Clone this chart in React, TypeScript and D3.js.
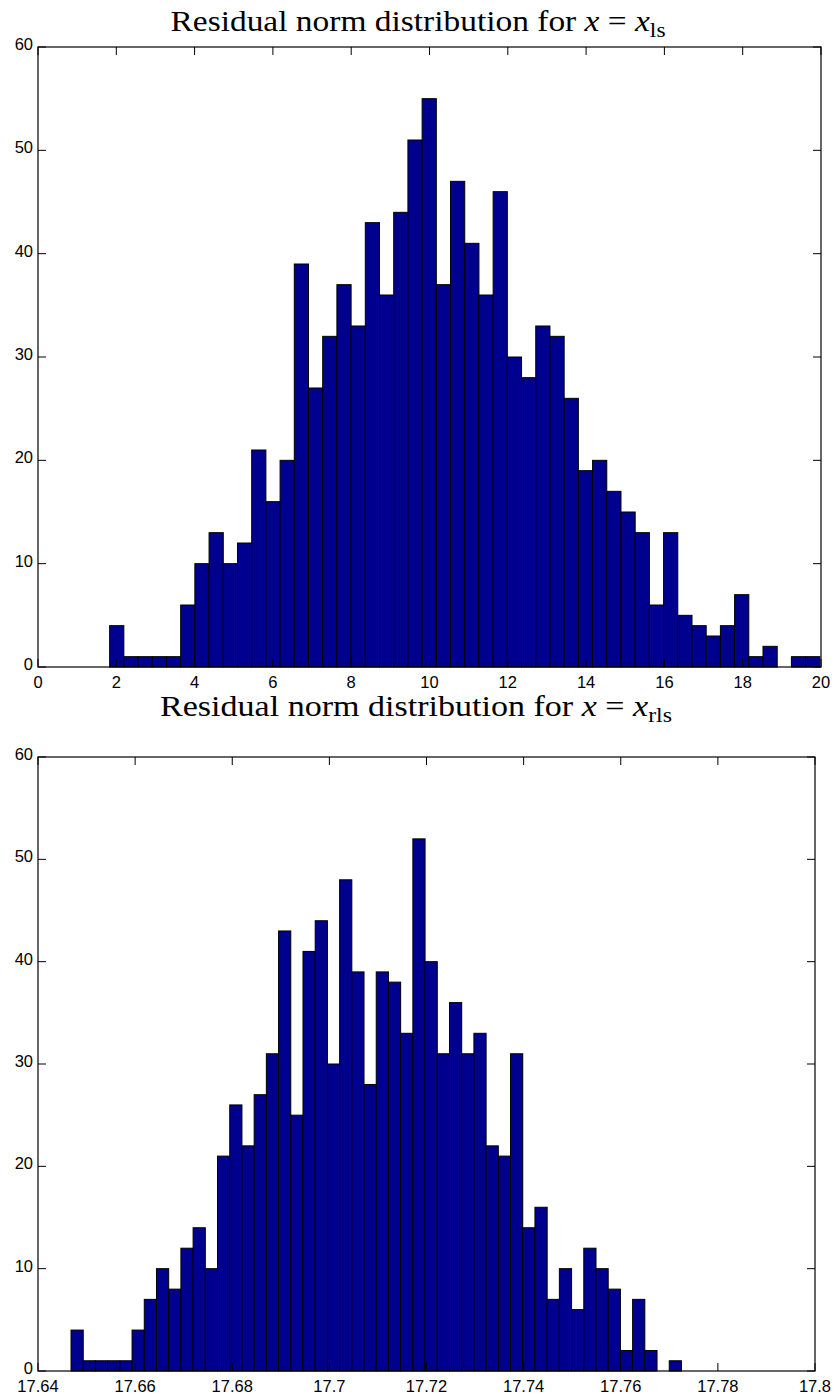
import React from "react";
import * as d3 from "d3";

// histogram counts, 50 bins each
const lsCounts = [4, 1, 1, 1, 1, 6, 10, 13, 10, 12, 21, 16, 20, 39, 27, 32, 37, 33, 43, 36, 44, 51, 55, 37, 47, 41, 36, 46, 30, 28, 33, 32, 26, 19, 20, 17, 15, 13, 6, 13, 5, 4, 3, 4, 7, 1, 2, 0, 1, 1];
const rlsCounts = [4, 1, 1, 1, 1, 4, 7, 10, 8, 12, 14, 10, 21, 26, 22, 27, 31, 43, 25, 41, 44, 30, 48, 39, 28, 39, 38, 33, 52, 40, 31, 36, 31, 33, 22, 21, 31, 14, 16, 7, 10, 6, 12, 10, 8, 2, 7, 2, 0, 1];

// data range covered by the bins
const lsRange = [1.83, 19.97];
const rlsRange = [17.6468, 17.7725];

const lsXTicks = [0, 2, 4, 6, 8, 10, 12, 14, 16, 18, 20];
const rlsXTicks = [17.64, 17.66, 17.68, 17.7, 17.72, 17.74, 17.76, 17.78, 17.8];
const yTicks = [0, 10, 20, 30, 40, 50, 60];

const BAR_COLOR = "#00008f";
const TICK_FONT = "'Liberation Sans', Arial, sans-serif";
const TITLE_FONT = "'Liberation Serif', 'Times New Roman', serif";

type Box = { left: number; right: number; top: number; bottom: number };

function Hist(props: {
  counts: number[];
  range: number[];
  xTicks: number[];
  box: Box;
  sub: string;
  titleX: number;
  titleY: number;
  titleW: number;
}) {
  const { counts, range, xTicks, box, sub, titleX, titleY, titleW } = props;
  const x = d3.scaleLinear().domain([xTicks[0], xTicks[xTicks.length - 1]]).range([box.left, box.right]);
  const y = d3.scaleLinear().domain([0, 60]).range([box.bottom, box.top]);
  const n = counts.length;
  const w = (range[1] - range[0]) / n;
  const fmt = (v: number) => String(+v.toFixed(4));
  const tl = 8;

  return (
    <g>
      <text
        x={titleX}
        y={titleY}
        textAnchor="middle"
        fontFamily={TITLE_FONT}
        fontSize={30}
        fill="#000"
        textLength={titleW}
        lengthAdjust="spacingAndGlyphs"
      >
        {"Residual norm distribution for "}
        <tspan fontStyle="italic">x</tspan>
        {" = "}
        <tspan fontStyle="italic">x</tspan>
        <tspan fontSize={21} dy={6}>{sub}</tspan>
      </text>
      {counts.map((c, i) =>
        c > 0 ? (
          <rect
            key={i}
            x={x(range[0] + i * w)}
            y={y(c)}
            width={x(range[0] + (i + 1) * w) - x(range[0] + i * w)}
            height={y(0) - y(c)}
            fill={BAR_COLOR}
            stroke="#000"
            strokeWidth={1}
          />
        ) : null
      )}
      <rect x={box.left} y={box.top} width={box.right - box.left} height={box.bottom - box.top} fill="none" stroke="#000" strokeWidth={1.2} />
      {xTicks.map((t) => (
        <g key={"x" + t}>
          <line x1={x(t)} x2={x(t)} y1={box.bottom} y2={box.bottom - tl} stroke="#000" />
          <line x1={x(t)} x2={x(t)} y1={box.top} y2={box.top + tl} stroke="#000" />
          <text x={x(t)} y={box.bottom + 21} textAnchor="middle" fontFamily={TICK_FONT} fontSize={16.5}>
            {fmt(t)}
          </text>
        </g>
      ))}
      {yTicks.map((t) => (
        <g key={"y" + t}>
          <line x1={box.left} x2={box.left + tl} y1={y(t)} y2={y(t)} stroke="#000" />
          <line x1={box.right} x2={box.right - tl} y1={y(t)} y2={y(t)} stroke="#000" />
          <text x={box.left - 5} y={y(t) + 3} textAnchor="end" fontFamily={TICK_FONT} fontSize={16.5}>
            {t}
          </text>
        </g>
      ))}
    </g>
  );
}

export default function App() {
  return (
    <svg
      width={835}
      height={1398}
      style={{ position: "absolute", left: 0, top: 0, background: "#fff" }}
    >
      <rect width={835} height={1398} fill="#fff" />
      <Hist
        counts={lsCounts}
        range={lsRange}
        xTicks={lsXTicks}
        box={{ left: 38, right: 821, top: 47, bottom: 667 }}
        sub="ls"
        titleX={418}
        titleY={31}
        titleW={495}
      />
      <Hist
        counts={rlsCounts}
        range={rlsRange}
        xTicks={rlsXTicks}
        box={{ left: 38, right: 815, top: 757, bottom: 1371 }}
        sub="rls"
        titleX={416}
        titleY={716}
        titleW={512}
      />
    </svg>
  );
}
